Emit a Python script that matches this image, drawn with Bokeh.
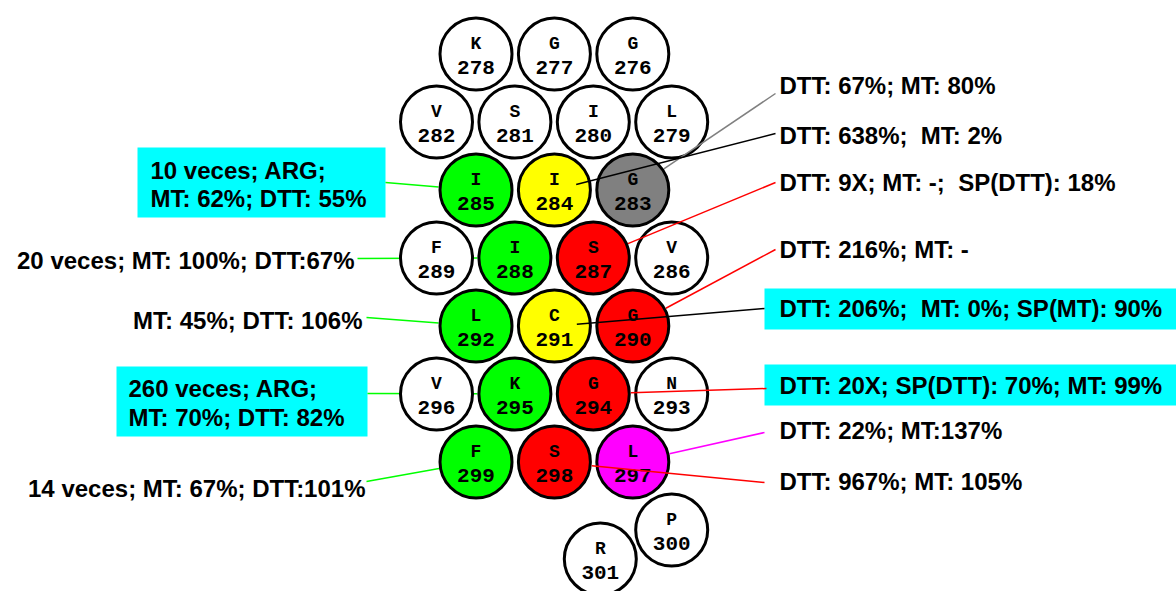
import math
from bokeh.plotting import figure
from bokeh.models import Range1d, ColumnDataSource
from bokeh.core.properties import value
from bokeh.embed import file_html
from bokeh.resources import INLINE

# ---------------- data ----------------
residues = list(range(276, 302))
letters = list("GGKLISVGIIVSIFGCLNGKVLSFPR")
fills = ["white", "white", "white", "white", "white", "white", "white",
         "#808080", "#FFFF00", "#00FF00",
         "white", "#FF0000", "#00FF00", "white",
         "#FF0000", "#FFFF00", "#00FF00",
         "white", "#FF0000", "#00FF00", "white",
         "#FF00FF", "#FF0000", "#00FF00",
         "white", "white"]

left_targets = [285, 288, 292, 295, 299]
left_texts = [["10 veces; ARG;", "MT: 62%; DTT: 55%"],
              ["20 veces; MT: 100%; DTT:67%"],
              ["MT: 45%; DTT: 106%"],
              ["260 veces; ARG;", "MT: 70%; DTT: 82%"],
              ["14 veces; MT: 67%; DTT:101%"]]
left_boxed = [True, False, False, True, False]

right_targets = [283, 284, 287, 290, 291, 294, 297, 298]
right_texts = ["DTT: 67%; MT: 80%",
               "DTT: 638%;  MT: 2%",
               "DTT: 9X; MT: -;  SP(DTT): 18%",
               "DTT: 216%; MT: -",
               "DTT: 206%;  MT: 0%; SP(MT): 90%",
               "DTT: 20X; SP(DTT): 70%; MT: 99%",
               "DTT: 22%; MT:137%",
               "DTT: 967%; MT: 105%"]
right_boxed = [False, False, False, False, True, True, False, False]
right_colors = ["#808080", "black", "#FF0000", "#FF0000", "black", "#FF0000", "#FF00FF", "#FF0000"]

# ---------------- layout ----------------
R = 37.5
ROW0, ROWSTEP = 53.5, 68.0
X3, X4, XSTEP = 475.5, 436.0, 78.4
OFF_HELIX = {301: (7.0, 29.0)}


def pos(n):
    i = n - residues[0]
    block, k = divmod(i, 7)
    if k < 3:
        row = 2 * block
        x = X3 + (2 - k) * XSTEP
    else:
        row = 2 * block + 1
        x = X4 + (6 - k) * XSTEP
    y = ROW0 + row * ROWSTEP
    dx, dy = OFF_HELIX.get(n, (0.0, 0.0))
    return x + dx, y + dy


xs, ys = zip(*[pos(n) for n in residues])

# label layout (page pixels)
left_anchor = [(385, 182), (357, 258), (366, 317), (367, 393), (366, 481)]
left_text_pos = [("left", 150, [170, 198]), ("right", 354, [260]), ("right", 362, [320]),
                 ("left", 128, [388, 417]), ("right", 365, [488])]
left_box = {0: (137, 385, 147, 217), 3: (116, 367, 366, 436)}

right_text_x = 779
right_text_y = [85, 135, 182, 249, 308, 385, 430, 481]
right_anchor = [(775, 93), (775, 133), (775, 182), (775, 249), (764, 308), (766, 388), (764, 432), (764, 482)]
right_box = {4: (764, 1190, 288, 329), 5: (764, 1190, 364, 405)}


def end_point(target, anchor, depth=1.0):
    cx, cy = pos(target)
    ax, ay = anchor
    d = math.hypot(ax - cx, ay - cy)
    return cx + (ax - cx) / d * R * depth, cy + (ay - cy) / d * R * depth


W, H = 1176, 591
p = figure(width=W, height=H, x_range=Range1d(0, W), y_range=Range1d(H, 0),
           output_backend="svg", toolbar_location=None, x_axis_type=None, y_axis_type=None,
           min_border=0)
p.outline_line_color = None
p.grid.visible = False
p.background_fill_color = "white"

FONT = value("Liberation Sans")
MONO = value("Liberation Mono")

# boxes
boxes = list(left_box.values()) + list(right_box.values())
p.quad(left=[b[0] for b in boxes], right=[b[1] for b in boxes],
       top=[b[2] for b in boxes], bottom=[b[3] for b in boxes],
       fill_color="#00FFFF", line_color=None)

# left leader lines (beneath circles)
lx0, ly0, lx1, ly1 = [], [], [], []
for t, a in zip(left_targets, left_anchor):
    ex, ey = end_point(t, a)
    lx0.append(a[0]); ly0.append(a[1]); lx1.append(ex); ly1.append(ey)
p.segment(x0=lx0, y0=ly0, x1=lx1, y1=ly1, line_color="#00FF00", line_width=1.5)

# circles
src = ColumnDataSource(dict(x=xs, y=ys, fill=fills, letter=letters,
                            num=[str(n) for n in residues],
                            ly=[y - 10.5 for y in ys], ny=[y + 13.5 for y in ys]))
p.circle(x="x", y="y", radius=R - 1.5, source=src, fill_color="fill",
         line_color="black", line_width=3)
p.text(x="x", y="ly", text="letter", source=src, text_font=MONO, text_font_style="bold",
       text_font_size="18px", text_align="center", text_baseline="middle", text_color="black")
p.text(x="x", y="ny", text="num", source=src, text_font=MONO, text_font_style="bold",
       text_font_size="21px", text_align="center", text_baseline="middle", text_color="black")

# right leader lines (on top)
rx0, ry0, rx1, ry1 = [], [], [], []
for t, a, c in zip(right_targets, right_anchor, right_colors):
    depth = 0.6 if c == "black" else 1.0
    ex, ey = end_point(t, a, depth)
    rx0.append(a[0]); ry0.append(a[1]); rx1.append(ex); ry1.append(ey)
p.segment(x0=rx0, y0=ry0, x1=rx1, y1=ry1, line_color=right_colors, line_width=1.5)

# left texts
tx, ty, tt, ta = [], [], [], []
for lines, (align, x, yl) in zip(left_texts, left_text_pos):
    for s, y in zip(lines, yl):
        tx.append(x); ty.append(y); tt.append(s); ta.append(align)
p.text(x=tx, y=ty, text=tt, text_align=ta, text_baseline="middle", text_font=FONT,
       text_font_style="bold", text_font_size="24px", text_color="black")

# right texts (keep double spaces visible in SVG)
shown = [s.replace("  ", " \u00a0") for s in right_texts]
p.text(x=[right_text_x] * len(shown), y=right_text_y, text=shown,
       text_align="left", text_baseline="middle", text_font=FONT,
       text_font_style="bold", text_font_size="24px", text_color="black")

open("out.html", "w").write(file_html(p, INLINE))
